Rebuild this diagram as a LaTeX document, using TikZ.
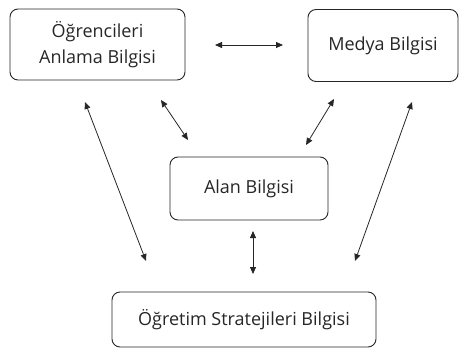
\documentclass[tikz,border=0pt]{standalone}
\usepackage{fontspec}
\setmainfont{Open Sans}
\usetikzlibrary{arrows.meta}
\begin{document}
\begin{tikzpicture}[x=1pt,y=-1pt,
  box/.style={draw=black!85, line width=0.9pt, rounded corners=8pt, align=center,
    inner sep=0pt, font=\fontsize{18}{26}\selectfont, text=black!85},
  link/.style={line width=0.8pt, draw=black!85,
    {Triangle[length=7pt,width=6pt]}-{Triangle[length=7pt,width=6pt]}}]
\useasboundingbox (0,0) rectangle (461,351);
% knowledge domains
\node[box, minimum width=175pt, minimum height=71pt] (ogr) at (97.5,44.5) {Öğrencileri\\Anlama Bilgisi};
\node[box, minimum width=150pt, minimum height=72pt] (med) at (383,45.5) {Medya Bilgisi};
\node[box, minimum width=158pt, minimum height=63pt] (alan) at (249,188.5) {Alan Bilgisi};
\node[box, minimum width=264pt, minimum height=55pt] (ogs) at (244,319.5) {Öğretim Stratejileri Bilgisi};
% arrow end points
\coordinate (h1) at (215,45);
\coordinate (h2) at (283,45);
\coordinate (l1) at (85,102);
\coordinate (l2) at (146,261);
\coordinate (d1) at (161,100);
\coordinate (d2) at (188,140);
\coordinate (e1) at (334,99);
\coordinate (e2) at (306,145);
\coordinate (r1) at (412,102);
\coordinate (r2) at (355,261);
\coordinate (v1) at (253,231);
\coordinate (v2) at (253,274);
% relations
\draw[link] (h1) -- (h2);
\draw[link] (l1) -- (l2);
\draw[link] (d1) -- (d2);
\draw[link] (e1) -- (e2);
\draw[link] (r1) -- (r2);
\draw[link] (v1) -- (v2);
\end{tikzpicture}
\end{document}
